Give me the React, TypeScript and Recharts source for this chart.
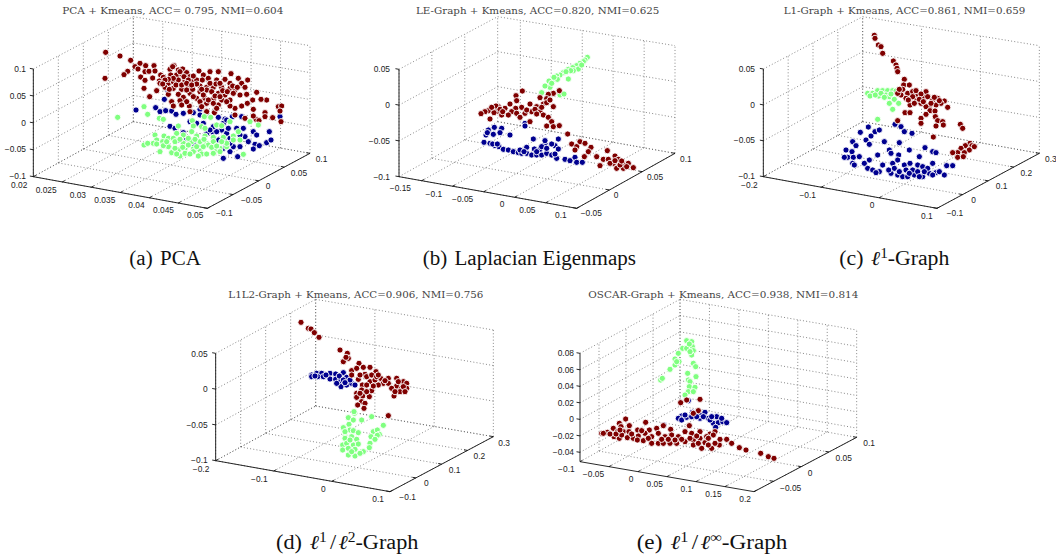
import React from "react";
import { ScatterChart, Scatter, XAxis, YAxis, ReferenceLine, ReferenceDot } from "recharts";

type P = number[];
const RED = "#7f0000";
const BLUE = "#00008f";
const GREEN = "#80ff80";

// Projected positions, in panel reading units
const aRed: P[] = [[317,157],[360,168],[315,235],[392,181],[420,190],[405,200],[437,197],[462,197],[383,214],[372,224],[414,207],[435,215],[447,214],[465,213],[422,231],[435,241],[432,265],[458,234],[482,225],[490,232],[478,243],[470,272],[449,290],[480,250],[510,208],[522,197],[535,210],[548,207],[512,225],[530,225],[545,222],[560,218],[570,230],[597,213],[610,225],[630,215],[655,215],[693,221],[575,245],[590,240],[607,240],[625,235],[650,240],[675,238],[690,250],[715,235],[743,240],[505,250],[520,245],[535,240],[555,243],[495,262],[520,265],[545,268],[565,262],[600,258],[620,262],[640,262],[665,262],[690,265],[705,270],[725,250],[735,262],[770,277],[740,283],[800,300],[783,298],[758,300],[742,310],[725,318],[705,325],[690,318],[505,283],[535,283],[550,292],[570,280],[600,275],[620,270],[655,280],[675,285],[515,305],[540,302],[520,318],[568,318],[590,295],[615,295],[640,298],[665,300],[655,315],[640,310],[620,310],[570,335],[620,335],[643,338],[705,345],[735,355],[760,328],[768,358],[760,348],[795,338],[818,353],[835,320],[845,318],[840,333],[843,365],[795,350],[777,362],[690,300],[518,200],[540,215],[552,230],[565,240],[580,228],[520,235],[505,238],[495,240],[488,252],[508,268],[528,255],[545,255],[560,270],[578,268],[590,252],[605,268],[630,250],[648,252],[660,250],[668,272],[682,275],[698,258],[712,262],[635,275],[610,285],[645,288],[660,290],[580,290],[600,305],[625,300],[560,305],[545,315],[650,325],[700,280],[605,320],[680,305],[720,285],[560,250],[575,255]];
const aBlue: P[] = [[503,270],[493,298],[408,330],[467,323],[480,335],[497,332],[515,333],[528,343],[550,340],[580,338],[600,328],[620,340],[655,352],[675,357],[697,350],[725,350],[570,365],[510,379],[525,385],[550,398],[590,370],[610,370],[650,375],[665,390],[680,400],[690,415],[730,385],[760,395],[770,405],[735,410],[745,425],[765,433],[778,437],[800,428],[813,420],[808,395],[840,350],[700,440],[720,440],[760,447],[670,475],[713,470],[690,455],[640,400],[620,400],[560,415],[535,420],[600,345],[600,440],[580,430],[670,370],[685,385],[675,425],[650,395],[690,430],[670,445],[710,385],[640,380],[630,390],[655,420],[720,405],[680,360]];
const aGreen: P[] = [[432,320],[353,352],[443,343],[478,355],[490,358],[465,405],[577,362],[613,350],[632,352],[580,378],[605,380],[615,385],[535,378],[530,400],[492,408],[470,420],[460,430],[432,435],[443,430],[470,432],[488,425],[505,415],[520,415],[550,405],[575,395],[590,408],[615,408],[640,412],[650,375],[665,377],[690,365],[750,365],[775,375],[715,395],[700,408],[720,420],[670,412],[680,440],[640,425],[620,430],[600,425],[575,425],[550,430],[525,425],[505,440],[490,437],[480,455],[515,458],[535,450],[555,445],[580,447],[600,450],[625,435],[650,450],[660,445],[540,468],[555,460],[580,455],[605,462],[620,462],[640,460],[660,455],[730,463],[680,430],[525,445],[565,435],[590,440],[500,425],[700,420],[565,415],[585,418],[610,440],[635,442],[650,438],[570,462],[595,468],[530,462],[548,442],[612,418],[540,418],[665,425]];

const bGreen: P[] = [[712,172],[705,180],[700,185],[690,190],[680,197],[685,207],[668,203],[655,208],[670,212],[640,218],[630,225],[620,228],[610,240],[597,243],[600,262],[585,258],[655,237],[622,238],[575,278],[630,285],[642,282],[695,195],[662,212],[648,215],[612,232],[605,250]];
const bRed: P[] = [[517,273],[498,287],[500,302],[480,312],[628,272],[610,280],[595,283],[590,296],[570,293],[610,320],[580,312],[540,312],[560,320],[515,322],[497,325],[485,335],[465,325],[445,320],[430,328],[440,335],[415,332],[405,335],[393,341],[420,357],[455,345],[475,345],[500,340],[510,352],[525,340],[545,335],[570,335],[580,345],[595,352],[605,365],[590,378],[610,380],[628,377],[540,365],[653,402],[665,432],[690,425],[680,440],[705,430],[723,442],[715,455],[703,470],[675,450],[772,452],[740,470],[760,478],[775,478],[795,468],[750,497],[790,490],[805,478],[820,490],[835,490],[850,503],[820,505],[800,505],[780,490],[810,495],[438,318],[450,328],[432,338],[458,335],[425,322],[530,330],[555,328],[575,322],[590,308],[600,300],[560,342],[795,482],[830,500],[815,483]];
const bBlue: P[] = [[525,370],[525,378],[433,382],[415,390],[455,385],[450,398],[430,403],[408,405],[480,405],[402,427],[420,430],[435,437],[447,440],[460,448],[475,450],[490,455],[505,458],[515,460],[530,460],[545,465],[560,465],[575,465],[590,460],[605,465],[620,475],[615,462],[530,442],[550,417],[553,447],[585,430],[615,437],[625,417],[585,422],[625,447],[605,432],[645,478],[660,482],[675,472],[680,487],[697,487],[570,448],[510,450],[412,398],[428,432],[442,432],[575,440],[590,445],[522,455],[560,455]];

const cGreen: P[] = [[485,280],[500,280],[515,272],[530,272],[545,272],[560,272],[570,273],[518,288],[540,285],[550,290],[565,298],[550,310],[578,310],[560,328],[515,358],[492,288],[508,285],[525,280],[555,282],[535,292]];
const cRed: P[] = [[505,106],[507,115],[517,135],[525,140],[530,160],[562,183],[570,195],[573,205],[575,215],[595,238],[593,255],[610,255],[590,268],[605,280],[585,285],[600,295],[620,275],[635,285],[630,300],[612,315],[597,338],[612,338],[660,275],[655,295],[680,300],[695,295],[715,303],[725,322],[705,310],[690,315],[670,318],[660,320],[645,310],[672,332],[687,333],[660,343],[645,355],[645,370],[688,350],[695,362],[710,365],[690,378],[712,375],[763,373],[770,385],[682,411],[575,362],[792,430],[798,437],[778,437],[765,445],[790,450],[805,440],[775,458],[755,458],[740,458],[755,472],[772,470],[620,290],[650,290],[575,280],[630,272],[645,282],[665,290],[675,310],[700,302],[640,298],[625,310],[607,300],[652,305],[685,292],[580,268]];
const cBlue: P[] = [[567,373],[585,380],[595,395],[618,400],[487,381],[463,397],[495,408],[507,395],[520,390],[440,425],[450,437],[480,420],[490,433],[535,425],[580,428],[420,450],[438,455],[425,472],[442,472],[460,470],[415,472],[440,490],[490,480],[515,465],[550,450],[555,460],[578,465],[610,450],[657,443],[680,455],[690,458],[640,470],[485,505],[500,510],[520,515],[530,495],[560,490],[575,480],[595,495],[612,490],[635,495],[650,500],[680,490],[722,497],[740,497],[555,520],[575,525],[590,530],[605,530],[625,525],[650,530],[670,520],[690,518],[715,525],[700,515],[565,505],[600,510],[620,510],[665,505],[445,495],[580,515],[610,520],[635,515],[655,515],[680,525],[510,518],[548,510],[640,530],[475,490]];

const dBlue: P[] = [[425,285],[440,280],[455,280],[480,280],[497,282],[443,290],[460,290],[480,297],[497,298],[520,278],[510,305],[530,292],[513,320],[530,315],[545,310],[555,315],[425,290],[468,285],[508,288],[520,300],[540,300],[435,288],[500,310],[525,308],[560,352]];
const dRed: P[] = [[393,127],[415,145],[423,147],[433,158],[447,172],[510,210],[532,220],[535,235],[520,245],[567,250],[545,272],[560,265],[580,262],[600,262],[618,275],[585,283],[565,298],[545,285],[600,305],[615,300],[632,295],[655,295],[680,295],[700,305],[710,310],[640,310],[655,310],[680,318],[695,325],[710,325],[665,325],[690,335],[672,348],[577,315],[575,330],[605,332],[560,340],[578,348],[598,350],[560,352],[575,365],[563,375],[585,370],[582,385],[655,407],[590,290],[625,315],[700,320],[528,232],[605,285],[620,290],[645,302],[570,285],[590,315],[610,318],[685,305],[705,335],[675,335],[570,340],[590,335],[625,285]];
const dGreen: P[] = [[553,400],[535,413],[550,420],[575,420],[605,410],[537,433],[640,436],[520,443],[540,450],[550,452],[565,458],[610,455],[622,450],[628,463],[525,470],[545,470],[560,478],[603,470],[622,466],[600,490],[525,475],[518,495],[530,490],[550,495],[565,492],[598,503],[580,515],[518,510],[535,525],[555,528],[570,520],[555,508],[615,478],[535,505],[545,515],[540,480],[525,455],[552,395]];

const eGreen: P[] = [[470,182],[485,185],[458,205],[470,205],[487,200],[490,212],[445,220],[485,225],[435,237],[447,245],[490,250],[435,255],[420,268],[497,260],[473,280],[498,290],[475,300],[480,305],[392,300],[397,295],[478,320],[495,322],[475,335],[490,335],[465,345],[478,192],[480,215],[440,245]];
const eBlue: P[] = [[402,435],[475,362],[487,397],[510,405],[525,397],[455,408],[445,415],[455,420],[470,412],[485,410],[510,415],[535,415],[560,410],[550,430],[565,428],[578,425],[557,442],[540,420],[590,428],[500,410],[520,410],[545,410],[465,405],[575,415]];
const eRed: P[] = [[287,417],[347,427],[268,430],[273,440],[510,358],[470,360],[452,368],[505,392],[490,400],[478,437],[232,457],[215,460],[250,445],[262,455],[280,455],[298,437],[297,455],[323,450],[358,450],[380,445],[400,437],[422,448],[252,470],[268,475],[292,473],[310,475],[325,468],[345,460],[365,470],[385,460],[405,470],[425,465],[445,470],[465,455],[485,460],[510,455],[540,462],[555,455],[550,465],[340,482],[322,480],[365,490],[385,490],[400,490],[420,490],[440,490],[465,485],[490,480],[510,475],[530,470],[525,488],[515,505],[545,505],[568,495],[570,478],[590,478],[605,490],[628,503],[648,510],[692,520],[715,530],[732,535],[490,495],[275,465],[220,460],[535,475],[500,468],[240,462],[258,462],[270,450],[305,462],[335,452],[355,475],[395,478],[415,478],[435,480],[455,478],[480,475],[505,490],[555,490],[535,495]];

// Tick labels
const aXTicks = ["0.02","0.025","0.03","0.035","0.04","0.045","0.05"];
const aYTicks = ["−0.1","−0.05","0","0.05","0.1"];
const aZTicks = ["−0.1","−0.05","0","0.05","0.1"];
const bXTicks = ["−0.15","−0.1","−0.05","0","0.05","0.1"];
const bYTicks = ["−0.05","0","0.05","0.1"];
const bZTicks = ["−0.1","−0.05","0","0.05"];
const cXTicks = ["−0.2","−0.1","0","0.1"];
const cYTicks = ["−0.1","0","0.1","0.2","0.3"];
const cZTicks = ["−0.1","−0.05","0","0.05"];
const eXTicks = ["−0.1","−0.05","0","0.05","0.1","0.15","0.2"];
const eYTicks = ["−0.05","0","0.05","0.1"];
const eZTicks = ["−0.04","−0.02","0","0.02","0.04","0.06","0.08"];

const panels: any[] = [
  { left: 0, top: 0, title: "PCA + Kmeans, ACC= 0.795, NMI=0.604", titleX: [187, 850], titleY: 30,
    cap: { y: 795, x: [388, 603], prefix: "(a)", plain: "PCA" },
    A: [100,530], At: 207, B: [622,625], C: [930,460], Ct: 137, D: [400,365], Dt: 50,
    fx: [0,1/6,2/6,3/6,4/6,5/6,1], fy: [0,.25,.5,.75,1], fz: [0,.25,.5,.75,1],
    xT: aXTicks, yT: aYTicks, zT: aZTicks,
    xL: [[82,555],[610,645]], yL: [[648,640],[947,478]], zL: [78,528,207],
    series: [[aBlue,BLUE],[aRed,RED],[aGreen,GREEN]] },
  { left: 350, top: 0, title: "LE-Graph + Kmeans, ACC=0.820, NMI=0.625", titleX: [198, 928], titleY: 30,
    cap: { y: 795, x: [218, 858], prefix: "(b)", plain: "Laplacian Eigenmaps" },
    A: [147,530], At: 208, B: [680,625], C: [975,460], Ct: 137, D: [443,365], Dt: 50,
    fx: [.128,.302,.477,.651,.826,1], fy: [0,1/3,2/3,1], fz: [0,1/3,2/3,1],
    xT: bXTicks, yT: bYTicks, zT: bZTicks,
    xL: [[183,565],[650,645]], yL: [[692,638],[990,478]], zL: [120,530,208],
    series: [[bBlue,BLUE],[bGreen,GREEN],[bRed,RED]] },
  { left: 706, top: 0, title: "L1-Graph + Kmeans, ACC=0.861, NMI=0.659", titleX: [233, 958], titleY: 30,
    cap: { y: 795, x: [400, 730], prefix: "(c)", sup: "1", tail: "-Graph" },
    A: [172,530], At: 207, B: [693,625], C: [1000,460], Ct: 137, D: [470,365], Dt: 50,
    fx: [0,1/3,2/3,1], fy: [0,.25,.5,.75,1], fz: [0,1/3,2/3,1],
    xT: cXTicks, yT: cYTicks, zT: cZTicks,
    xL: [[155,555],[680,647]], yL: [[722,640],[1017,478]], zL: [147,528,207],
    series: [[cBlue,BLUE],[cGreen,GREEN],[cRed,RED]] },
  { left: 170, top: 280, title: "L1L2-Graph + Kmeans, ACC=0.906, NMI=0.756", titleX: [175, 940], titleY: 42,
    cap: { y: 808, x: [318, 745], prefix: "(d)", sup: "1", mid: "2", tail: "-Graph" },
    A: [137,542], At: 220, B: [660,635], C: [970,470], Ct: 150, D: [437,378], Dt: 58,
    fx: [0,1/3,2/3,1], fy: [0,.25,.5,.75,1], fz: [0,1/3,2/3,1],
    xT: cXTicks, yT: cYTicks, zT: cZTicks,
    xL: [[118,568],[642,657]], yL: [[688,650],[985,488]], zL: [113,540,222],
    series: [[dBlue,BLUE],[dRed,RED],[dGreen,GREEN]] },
  { left: 530, top: 280, title: "OSCAR-Graph + Kmeans, ACC=0.938, NMI=0.814", titleX: [175, 985], titleY: 42,
    cap: { y: 808, x: [320, 772], prefix: "(e)", sup: "1", mid: "∞", tail: "-Graph" },
    A: [150,545], At: 220, B: [672,635], C: [980,472], Ct: 150, D: [450,378], Dt: 58,
    fx: [0,1/6,2/6,3/6,4/6,5/6,1], fy: [.19,.46,.73,1], fz: [.086,.238,.39,.543,.695,.848,1],
    xT: eXTicks, yT: eYTicks, zT: eZTicks,
    xL: [[134,567],[663,657]], yL: [[750,625],[1000,488]], zL: [132,517,220],
    series: [[eBlue,BLUE],[eGreen,GREEN],[eRed,RED]] },
];

const W = 350, H = 280, UNIT = 3;
const mix = (a: P, b: P, f: number): P => [a[0] + (b[0] - a[0]) * f, a[1] + (b[1] - a[1]) * f];

function segments(p: any) {
  const { A, B, C, D, At, Ct, Dt, fx, fy, fz } = p;
  const At2 = [A[0], At], Ct2 = [C[0], Ct], Dt2 = [D[0], Dt];
  const dotted: P[][] = [], solid: P[][] = [];
  for (const f of fx) {
    dotted.push([mix(A, B, f), mix(D, C, f)]);
    dotted.push([mix(D, C, f), mix(Dt2, Ct2, f)]);
    const q = mix(A, B, f);
    solid.push([q, [q[0] + (D[0] - A[0]) * 0.025, q[1] + (D[1] - A[1]) * 0.025]]);
  }
  for (const f of fy) {
    dotted.push([mix(A, D, f), mix(B, C, f)]);
    dotted.push([mix(A, D, f), mix(At2, Dt2, f)]);
    const q = mix(B, C, f);
    solid.push([q, [q[0] + (A[0] - B[0]) * 0.02, q[1] + (A[1] - B[1]) * 0.02]]);
  }
  for (const f of fz) {
    dotted.push([mix(A, At2, f), mix(D, Dt2, f)]);
    dotted.push([mix(D, Dt2, f), mix(C, Ct2, f)]);
    const q = mix(A, At2, f);
    solid.push([q, [q[0] - (B[0] - A[0]) * 0.02, q[1] - (B[1] - A[1]) * 0.02]]);
  }
  solid.push([A, At2], [A, B], [B, C]);
  return { dotted, solid };
}

const toXY = (pts: P[]) => pts.map(([u, v]) => ({ u, v }));
const dotShape = (fill: string) => (props: any) =>
  <circle cx={props.cx} cy={props.cy} r={3.1} fill={fill} stroke="#ffffff" strokeWidth={0.9} />;

const tickText = (label: string, anchor: string) => (props: any) => (
  <text x={props.cx} y={props.cy} textAnchor={anchor} dominantBaseline="central"
    fontFamily="'Liberation Sans', sans-serif" fontSize={8.4} fill="#222">{label}</text>
);
const titleText = (label: string, width: number) => (props: any) => (
  <text x={props.cx} y={props.cy} textAnchor="start" dominantBaseline="central" textLength={width} lengthAdjust="spacingAndGlyphs"
    fontFamily="'DejaVu Serif', serif" fontSize={9.6} fill="#444">{label}</text>
);
const captionText = (c: any, width: number) => (props: any) => (
  <text x={props.cx} y={props.cy} fontFamily="'Liberation Serif', serif" fontSize={20} fill="#111" textLength={width} lengthAdjust="spacingAndGlyphs">
    <tspan>{c.prefix}</tspan>
    {c.plain ? <tspan dx={7}>{c.plain}</tspan> : (
      <>
        <tspan dx={7} fontStyle="italic">ℓ</tspan>
        <tspan dy={-7} fontSize={14}>{c.sup}</tspan>
        {c.mid ? (
          <>
            <tspan dy={7} dx={3}>/</tspan>
            <tspan dx={2} fontStyle="italic">ℓ</tspan>
            <tspan dy={-7} fontSize={14}>{c.mid}</tspan>
            <tspan dy={7}>{c.tail}</tspan>
          </>
        ) : <tspan dy={7}>{c.tail}</tspan>}
      </>
    )}
  </text>
);

function labelsAlong(list: string[], ends: P[]) {
  return list.map((t, i) => ({ t, p: mix(ends[0], ends[1], list.length > 1 ? i / (list.length - 1) : 0) }));
}

function Panel({ p }: { p: any }) {
  const { dotted, solid } = segments(p);
  const seg = (s: P[]) => [{ x: s[0][0], y: s[0][1] }, { x: s[1][0], y: s[1][1] }] as any;
  const z = p.zL;
  return (
    <div style={{ position: "absolute", left: p.left, top: p.top, width: W, height: H }}>
      <ScatterChart width={W} height={H} margin={{ top: 0, right: 0, bottom: 0, left: 0 }}>
        <XAxis type="number" dataKey="u" domain={[0, W * UNIT]} hide />
        <YAxis type="number" dataKey="v" domain={[0, H * UNIT]} reversed hide />
        {dotted.map((s, i) => (
          <ReferenceLine key={"d" + i} segment={seg(s)} stroke="#555" strokeWidth={0.7} strokeDasharray="1 2.2" ifOverflow="visible" />
        ))}
        {solid.map((s, i) => (
          <ReferenceLine key={"s" + i} segment={seg(s)} stroke="#111" strokeWidth={0.9} ifOverflow="visible" />
        ))}
        {p.series.map(([pts, color]: any, i: number) => (
          <Scatter key={i} data={toXY(pts)} isAnimationActive={false} shape={dotShape(color)} />
        ))}
        {labelsAlong(p.xT, p.xL).map((l) => (
          <ReferenceDot key={"x" + l.t} x={l.p[0]} y={l.p[1]} r={0} ifOverflow="visible" shape={tickText(l.t, "end")} />
        ))}
        {labelsAlong(p.yT, p.yL).map((l) => (
          <ReferenceDot key={"y" + l.t} x={l.p[0]} y={l.p[1]} r={0} ifOverflow="visible" shape={tickText(l.t, "start")} />
        ))}
        {labelsAlong(p.zT, [[z[0], z[1]], [z[0], z[2]]]).map((l) => (
          <ReferenceDot key={"z" + l.t} x={l.p[0]} y={l.p[1]} r={0} ifOverflow="visible" shape={tickText(l.t, "end")} />
        ))}
        <ReferenceDot x={p.titleX[0]} y={p.titleY} r={0} ifOverflow="visible"
          shape={titleText(p.title, (p.titleX[1] - p.titleX[0]) / UNIT)} />
        <ReferenceDot x={p.cap.x[0]} y={p.cap.y} r={0} ifOverflow="visible"
          shape={captionText(p.cap, (p.cap.x[1] - p.cap.x[0]) / UNIT)} />
      </ScatterChart>
    </div>
  );
}

export default function App() {
  return (
    <div style={{ position: "absolute", left: 0, top: 0, width: 1056, height: 556, background: "#fff", overflow: "hidden" }}>
      {panels.map((p, i) => <Panel key={i} p={p} />)}
    </div>
  );
}
